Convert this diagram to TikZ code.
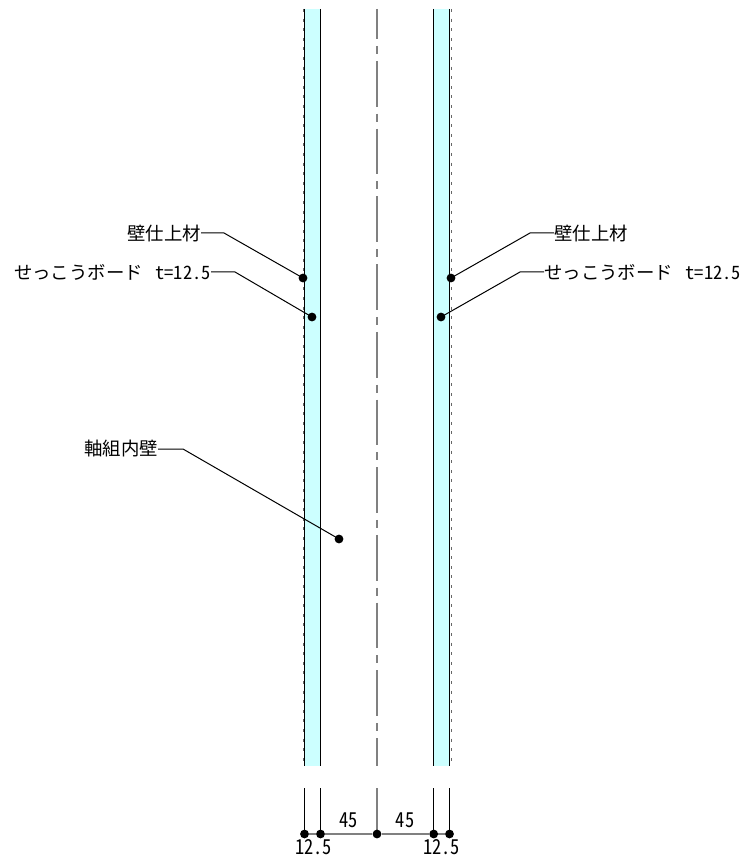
\documentclass[tikz,border=0pt]{standalone}
\usepackage{fontspec}
\usetikzlibrary{backgrounds}
\setmainfont[RawFeature=+hwid]{Noto Sans CJK JP}
\definecolor{boardcyan}{HTML}{CCFFFF}
\definecolor{centergray}{HTML}{808080}
\tikzset{
  dot/.style={circle,fill=black,inner sep=0pt,minimum size=8.8pt},
  lbl/.style={inner sep=0pt,font=\fontsize{18.4}{20}\selectfont},
  dimlbl/.style={inner sep=0pt,yscale=1.12,font=\fontsize{18.4}{20}\selectfont},
  leader/.style={draw=black,line width=1pt},
  center line/.style={centergray,line width=1.6pt,dash pattern=on 45.7pt off 7pt on 8pt off 7pt,dash phase=15.7pt},
  finish line/.style={black!60,line width=1pt,dash pattern=on 3pt off 6.6pt}
}
\begin{document}
\begin{tikzpicture}[x=1pt,y=-1pt]
 \useasboundingbox (0,0) rectangle (745,858);
 % walls
 \fill[boardcyan](304.5,9) rectangle (320.5,766);
 \fill[boardcyan](433.7,9) rectangle (449.5,766);
 \draw[line width=1.2pt](304.5,9)--(304.5,766);
 \draw[line width=1.2pt](320.5,9)--(320.5,766);
 \draw[line width=1.2pt](433.7,9)--(433.7,766);
 \draw[line width=1.2pt](449.5,9)--(449.5,766);
 \draw[finish line](303,9)--(303,766);
 \draw[finish line](451,9)--(451,766);
 \draw[center line](377,9)--(377,766);
 % leader points
 \node[dot] (finishL) at (303,278) {};
 \node[dot] (boardL) at (312,317) {};
 \node[dot] (wallL) at (339,539) {};
 \node[dot] (finishR) at (451,278) {};
 \node[dot] (boardR) at (441,317) {};
 % labels
 \node[lbl,anchor=east] (tFinishL) at (201,233) {壁仕上材};
 \node[lbl,anchor=east] (tBoardL) at (211,272) {せっこうボード\kern3.5pt{} t=12.5};
 \node[lbl,anchor=east] (tWallL) at (158,449) {軸組内壁};
 \node[lbl,anchor=west] (tFinishR) at (554,233) {壁仕上材};
 \node[lbl,anchor=west] (tBoardR) at (544,272) {せっこうボード\kern3.5pt{} t=12.5};
 \draw[leader](tFinishL.east)--++(23,0)--(finishL.center);
 \draw[leader](tBoardL.east)--++(24,0)--(boardL.center);
 \draw[leader](tWallL.east)--++(25,0)--(wallL.center);
 \draw[leader](tFinishR.west)--++(-24,0)--(finishR.center);
 \draw[leader](tBoardR.west)--++(-24,0)--(boardR.center);
 % dimension
 \node[dot] (d1) at (304.5,834) {};
 \node[dot] (d2) at (320.5,834) {};
 \node[dot] (d3) at (377,834) {};
 \node[dot] (d4) at (433.7,834) {};
 \node[dot] (d5) at (449.5,834) {};
 \coordinate (e1) at (304.5,788);
 \coordinate (e2) at (320.5,788);
 \coordinate (e3) at (377,788);
 \coordinate (e4) at (433.7,788);
 \coordinate (e5) at (449.5,788);
 \begin{pgfonlayer}{background}
 \draw[line width=1.2pt](e1)--(d1.center);
 \draw[line width=1.2pt](e2)--(d2.center);
 \draw[centergray,line width=1.6pt](e3)--(d3.center);
 \draw[line width=1.2pt](e4)--(d4.center);
 \draw[line width=1.2pt](e5)--(d5.center);
 \draw[centergray,line width=1.6pt](d1)--(d2);
 \draw[centergray,line width=1.6pt](d2)--(d3);
 \draw[centergray,line width=1.6pt](d3)--(d4);
 \draw[centergray,line width=1.6pt](d4)--(d5);
 \end{pgfonlayer}
 \node[dimlbl] (w1) at (313.5,847) {12.5};
 \node[dimlbl] (w2) at (348.5,820) {45};
 \node[dimlbl] (w3) at (405,820) {45};
 \node[dimlbl] (w4) at (441.5,847) {12.5};
\end{tikzpicture}
\end{document}
